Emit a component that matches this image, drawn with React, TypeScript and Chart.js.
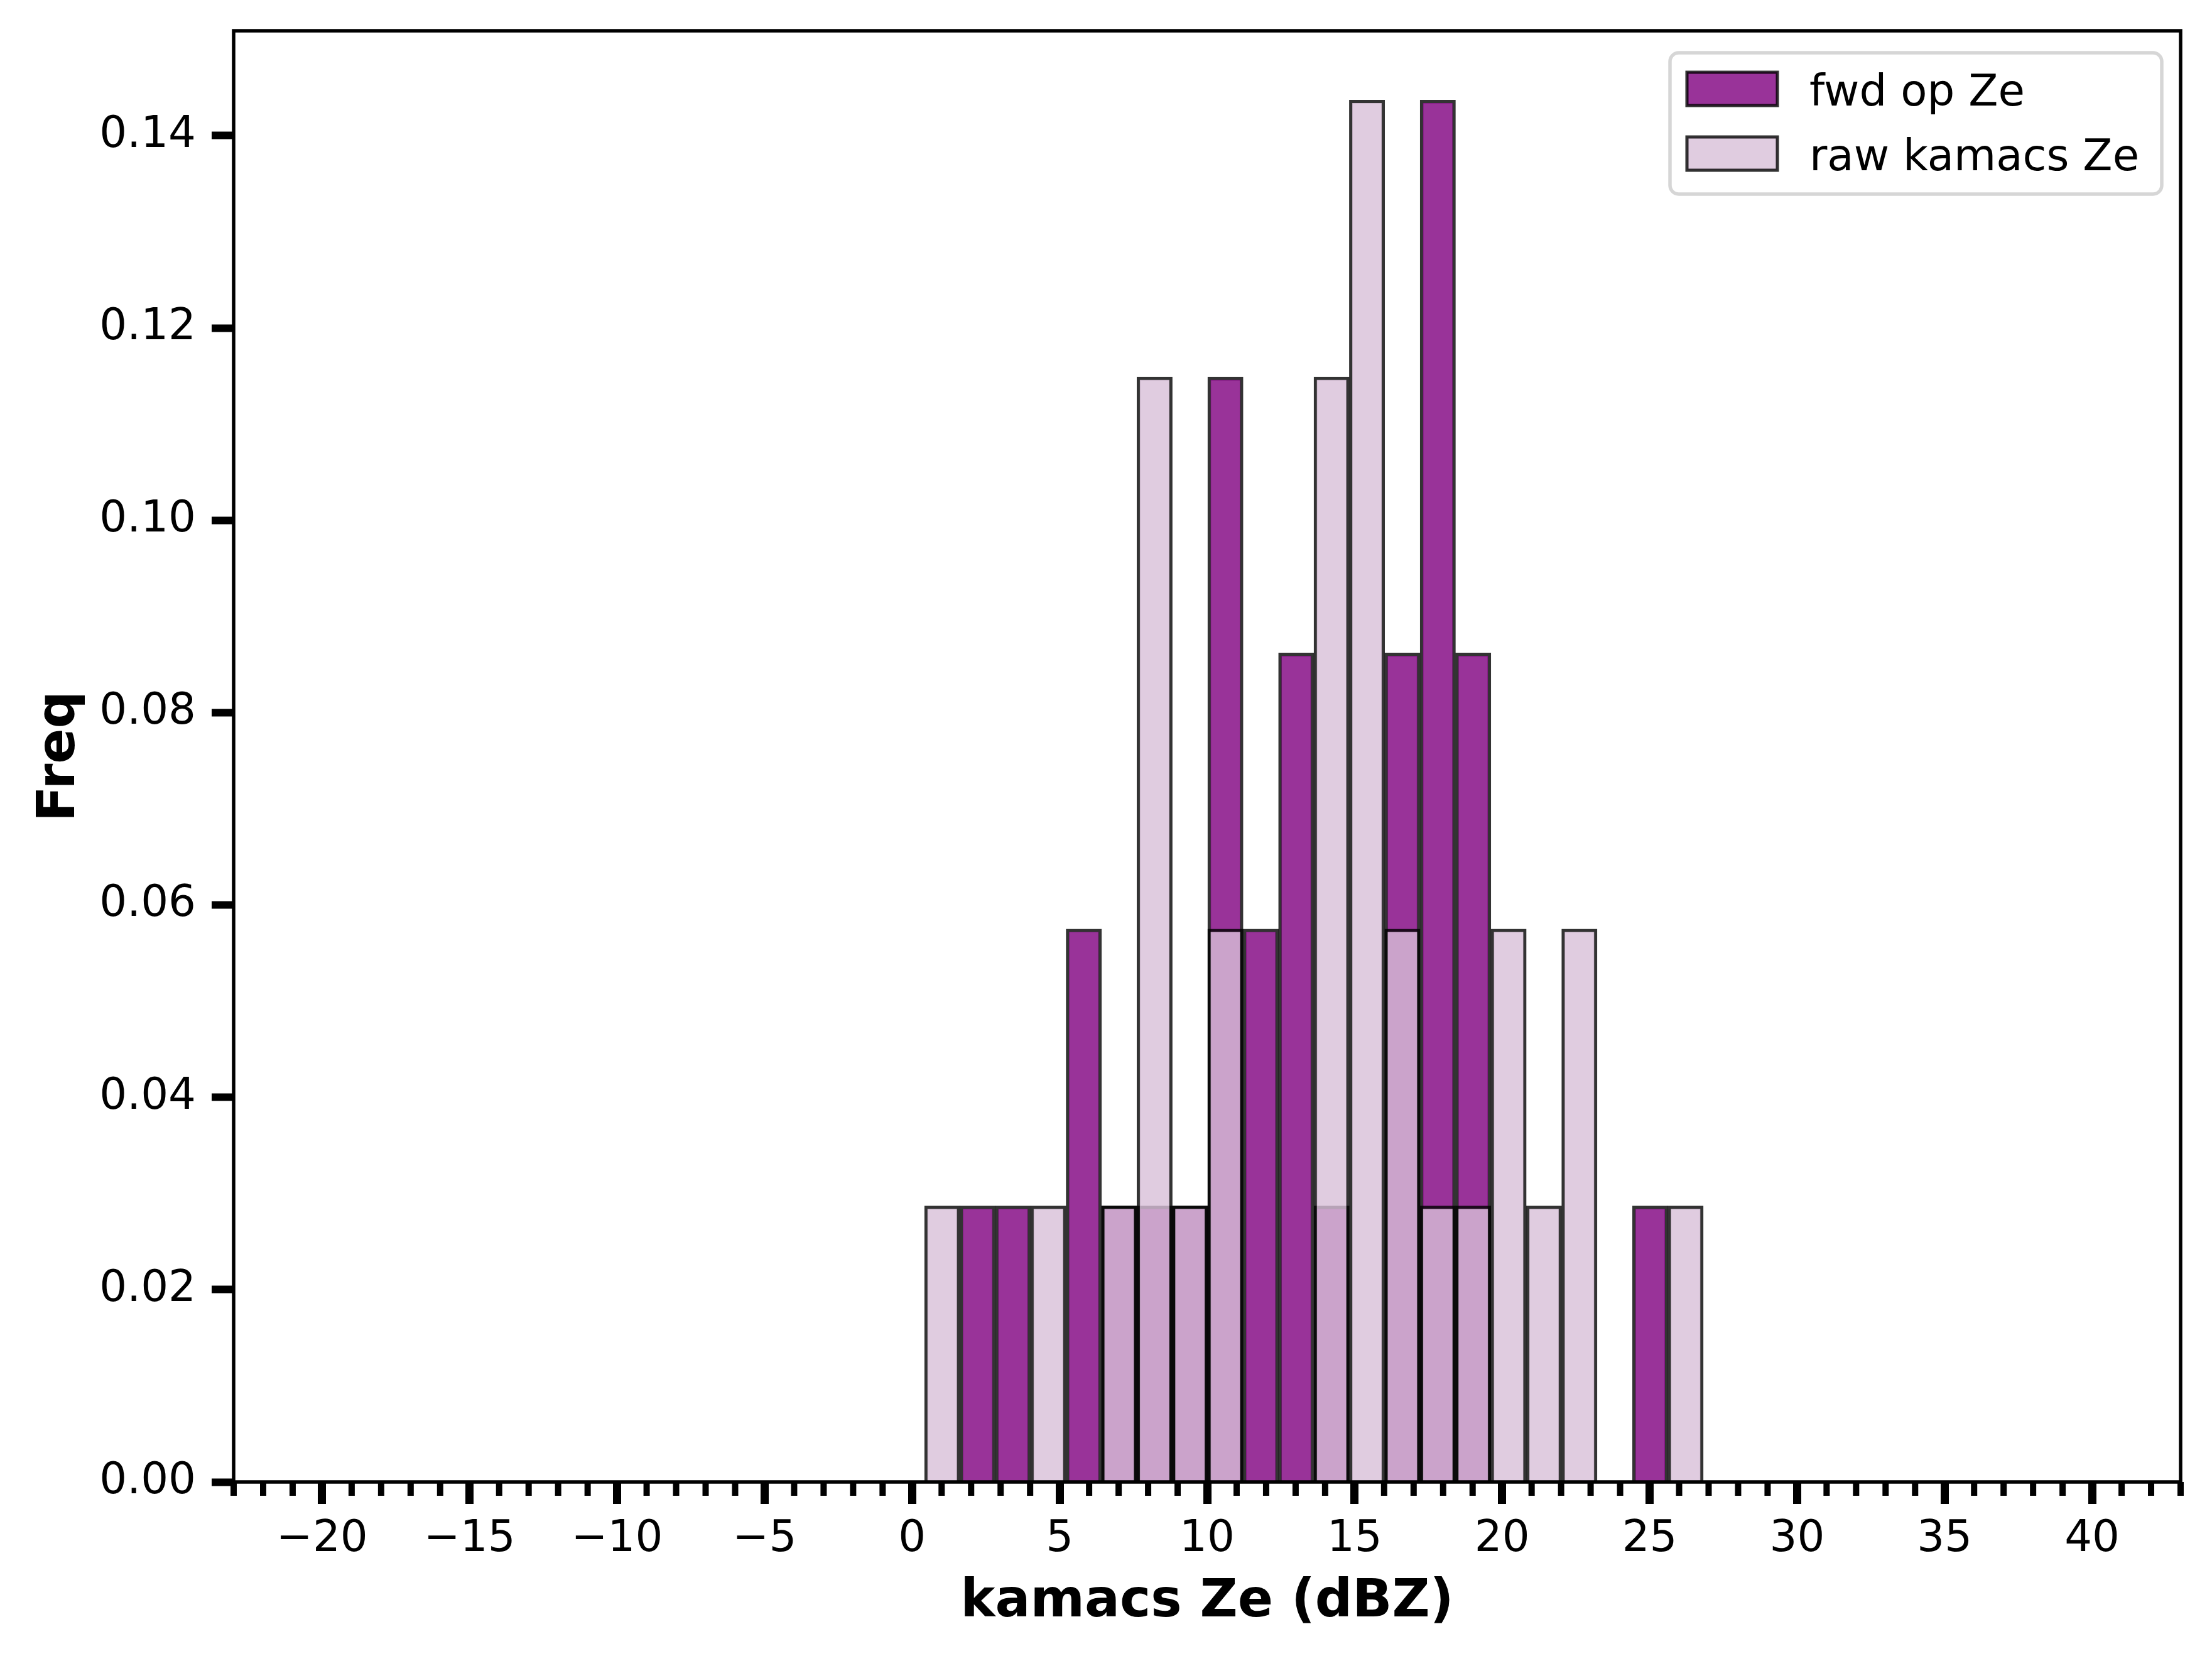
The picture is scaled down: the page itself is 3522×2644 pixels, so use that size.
import { useEffect, useRef } from 'react';
import { Chart, registerables } from 'chart.js';
import type { Plugin } from 'chart.js';

Chart.register(...registerables);

// histogram bin edges (dBZ)
const binEdges = [
  0.42, 1.62, 2.82, 4.02, 5.22, 6.42, 7.62, 8.82, 10.02, 11.22, 12.42, 13.62,
  14.82, 16.02, 17.22, 18.42, 19.62, 20.82, 22.02, 23.22, 24.42, 25.62, 26.82,
];

// density per bin
const fwdFreq = [
  0, 0.0287, 0.0287, 0, 0.0575, 0.0287, 0.0287, 0.0287, 0.1149, 0.0575, 0.0862,
  0.0287, 0, 0.0862, 0.1437, 0.0862, 0, 0, 0, 0, 0.0287, 0,
];
const rawFreq = [
  0.0287, 0, 0, 0.0287, 0, 0.0287, 0.1149, 0.0287, 0.0575, 0, 0, 0.1149,
  0.1437, 0.0575, 0.0287, 0.0287, 0.0575, 0.0287, 0.0575, 0, 0, 0.0287,
];

const seriesLabels = ['fwd op Ze', 'raw kamacs Ze'];
const xMajorTicks = [-20, -15, -10, -5, 0, 5, 10, 15, 20, 25, 30, 35, 40];
const yTicks = [0, 0.02, 0.04, 0.06, 0.08, 0.1, 0.12, 0.14];
const xLimits = [-23, 43];
const yLimits = [0, 0.1509];

const FONT = 'DejaVu Sans';
const FWD_FILL = 'rgba(128, 0, 128, 0.8)'; // purple, alpha 0.8
const RAW_FILL = 'rgba(216, 191, 216, 0.8)'; // thistle, alpha 0.8
const EDGE = 'rgba(0, 0, 0, 0.8)';

const toPoints = (freq: number[]) =>
  freq.map((y, i) => ({ x: (binEdges[i] + binEdges[i + 1]) / 2, y: y === 0 ? null : y }));

const minus = (v: number) => String(v).replace('-', '\u2212');

// minor x ticks + four spines
const framePlugin: Plugin<'bar'> = {
  id: 'frame',
  afterDraw(chart) {
    const { ctx, chartArea: a } = chart;
    const xs = chart.scales.x;
    ctx.save();
    ctx.strokeStyle = '#000';
    ctx.lineWidth = 10;
    for (let v = Math.ceil(xs.min); v <= Math.floor(xs.max); v++) {
      if (xMajorTicks.includes(v)) continue;
      const px = xs.getPixelForValue(v);
      ctx.beginPath();
      ctx.moveTo(px, a.bottom);
      ctx.lineTo(px, a.bottom + 22);
      ctx.stroke();
    }
    ctx.lineWidth = 5.5;
    ctx.strokeRect(a.left, a.top, a.right - a.left, a.bottom - a.top);
    ctx.restore();
  },
};

// matplotlib-like framed legend in the upper right corner
const legendPlugin: Plugin<'bar'> = {
  id: 'boxLegend',
  afterDraw(chart) {
    const { ctx, chartArea: a } = chart;
    const w = 783;
    const h = 225;
    const x = a.right - 30 - w;
    const y = a.top + 35;
    ctx.save();
    ctx.fillStyle = 'rgba(255, 255, 255, 0.8)';
    ctx.strokeStyle = '#d6d6d6';
    ctx.lineWidth = 5.5;
    ctx.beginPath();
    ctx.roundRect(x, y, w, h, 14);
    ctx.fill();
    ctx.stroke();

    const fills = [FWD_FILL, RAW_FILL];
    seriesLabels.forEach((label, i) => {
      const top = y + 31 + i * 103;
      ctx.fillStyle = fills[i];
      ctx.fillRect(x + 27, top, 144, 53);
      ctx.strokeStyle = EDGE;
      ctx.lineWidth = 5;
      ctx.strokeRect(x + 27, top, 144, 53);
      ctx.fillStyle = '#000';
      ctx.font = `69px ${FONT}`;
      ctx.textBaseline = 'alphabetic';
      ctx.textAlign = 'left';
      ctx.fillText(label, x + 222, top + 53);
    });
    ctx.restore();
  },
};

export default function App() {
  const canvasRef = useRef<HTMLCanvasElement>(null);

  useEffect(() => {
    document.body.style.margin = '0';
    if (!canvasRef.current) return;

    const chart = new Chart(canvasRef.current, {
      type: 'bar',
      data: {
        datasets: [
          {
            label: seriesLabels[0],
            data: toPoints(fwdFreq) as any,
            backgroundColor: FWD_FILL,
            order: 1,
          },
          {
            label: seriesLabels[1],
            data: toPoints(rawFreq) as any,
            backgroundColor: RAW_FILL,
            order: 0, // drawn on top
          },
        ],
      },
      options: {
        responsive: false,
        animation: false,
        devicePixelRatio: 1,
        events: [],
        layout: { padding: { top: 49, right: 50, left: 0, bottom: 0 } },
        datasets: {
          bar: {
            grouped: false,
            barPercentage: 1,
            categoryPercentage: 1,
            borderWidth: 5,
            borderColor: EDGE,
          },
        },
        plugins: {
          legend: { display: false },
          tooltip: { enabled: false },
        },
        scales: {
          x: {
            type: 'linear',
            min: xLimits[0],
            max: xLimits[1],
            offset: false,
            afterBuildTicks: (scale) => {
              scale.ticks = xMajorTicks.map((value) => ({ value }));
            },
            afterFit: (scale) => {
              scale.height = 285;
              scale.paddingLeft = 0;
              scale.paddingRight = 0;
            },
            ticks: {
              color: '#000',
              font: { family: FONT, size: 69 },
              padding: 16,
              autoSkip: false,
              maxRotation: 0,
              callback: (v) => minus(Number(v)),
            },
            grid: {
              offset: false,
              drawOnChartArea: false,
              tickLength: 35,
              tickWidth: 13,
              tickColor: '#000',
            },
            border: { display: false },
            title: {
              display: true,
              text: 'kamacs Ze (dBZ)',
              color: '#000',
              font: { family: FONT, size: 83, weight: 'bold' },
              padding: { top: 0, bottom: 43 },
            },
          },
          y: {
            type: 'linear',
            min: yLimits[0],
            max: yLimits[1],
            afterBuildTicks: (scale) => {
              scale.ticks = yTicks.map((value) => ({ value }));
            },
            afterFit: (scale) => {
              scale.width = 372;
              scale.paddingTop = 0;
              scale.paddingBottom = 0;
            },
            ticks: {
              color: '#000',
              font: { family: FONT, size: 69 },
              padding: 25,
              callback: (v) => Number(v).toFixed(2),
            },
            grid: {
              offset: false,
              drawOnChartArea: false,
              tickLength: 35,
              tickWidth: 12,
              tickColor: '#000',
            },
            border: { display: false },
            title: {
              display: true,
              text: 'Freq',
              color: '#000',
              font: { family: FONT, size: 83, weight: 'bold' },
              padding: { top: 46.5, bottom: 0 },
            },
          },
        },
      },
      plugins: [framePlugin, legendPlugin],
    });

    return () => {
      chart.destroy();
    };
  }, []);

  return (
    <div style={{ width: 3522, height: 2644, background: '#fff' }}>
      <canvas ref={canvasRef} width={3522} height={2644} />
    </div>
  );
}
